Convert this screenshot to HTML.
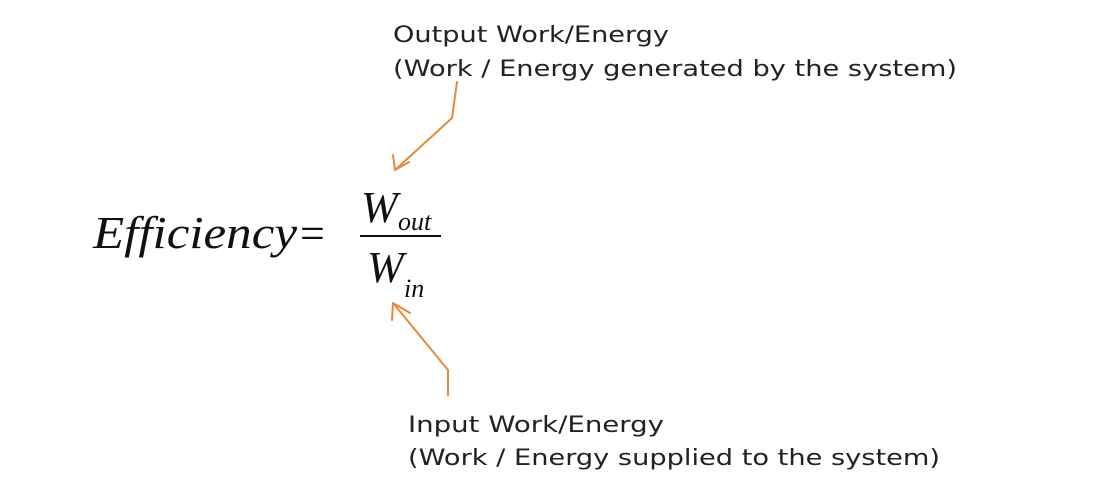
<!DOCTYPE html>
<html><head><meta charset="utf-8"><style>
html,body{margin:0;padding:0;background:#fff;}
svg{display:block;}
</style></head><body>
<svg width="1098" height="504" viewBox="0 0 1098 504" xmlns="http://www.w3.org/2000/svg">
<rect width="1098" height="504" fill="#fff"/>
<g font-family="'DejaVu Sans', Verdana, sans-serif" font-size="22" fill="#222">
<text x="393" y="42" textLength="276" lengthAdjust="spacingAndGlyphs">Output Work/Energy</text>
<text x="393" y="76" textLength="564" lengthAdjust="spacingAndGlyphs">(Work / Energy generated by the system)</text>
<text x="408" y="432" textLength="256" lengthAdjust="spacingAndGlyphs">Input Work/Energy</text>
<text x="408" y="465" textLength="532" lengthAdjust="spacingAndGlyphs">(Work / Energy supplied to the system)</text>
</g>
<g font-family="'Liberation Serif', serif" font-style="italic" fill="#111">
<text x="93" y="248" font-size="46" textLength="204" lengthAdjust="spacingAndGlyphs">Efficiency</text>
<text x="300" y="248" font-size="44" font-style="normal">=</text>
<text x="361" y="222" font-size="44">W</text>
<text x="398" y="230" font-size="26">out</text>
<text x="367" y="282" font-size="44">W</text>
<text x="404" y="297" font-size="26">in</text>
</g>
<line x1="360" y1="236" x2="441" y2="236" stroke="#111" stroke-width="2"/>
<g stroke="#e58a3c" stroke-width="2" fill="none" stroke-linecap="round" stroke-linejoin="round">
<polyline points="457,82 452,118 395,170"/>
<polyline points="393,155 395,170 409,162"/>
<polyline points="448,395 448,370 393,303"/>
<polyline points="392,320 393,303 410,313"/>
</g>
</svg>
</body></html>
